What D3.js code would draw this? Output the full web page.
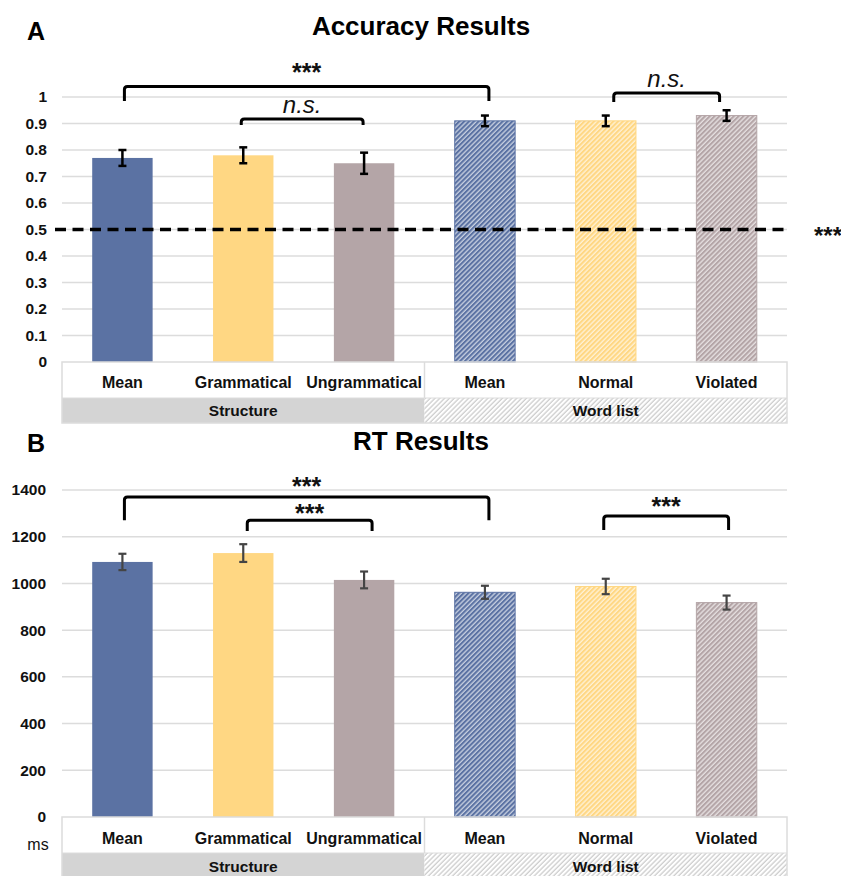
<!DOCTYPE html>
<html>
<head>
<meta charset="utf-8">
<script src="https://cdn.jsdelivr.net/npm/d3@7"></script>
<style>
  html, body { margin: 0; padding: 0; background: #fff; }
  svg { display: block; font-family: "Liberation Sans", Arial, Helvetica, sans-serif; }
</style>
</head>
<body>
<svg id="chart" width="841" height="876"></svg>
<script>
// ---------- DATA ----------
const categories = ["Mean", "Grammatical", "Ungrammatical", "Mean", "Normal", "Violated"];
const groupNames = ["Structure", "Word list"];
const groupOf = [0, 0, 0, 1, 1, 1];
const colorKeys = ["blue", "yellow", "mauve", "blue", "yellow", "mauve"];

const accValues = [0.77, 0.78, 0.75, 0.91, 0.91, 0.93];
const accErrors = [0.03, 0.03, 0.04, 0.02, 0.02, 0.02];
const accTicks = [0, 0.1, 0.2, 0.3, 0.4, 0.5, 0.6, 0.7, 0.8, 0.9, 1];
const accTickLabels = ["0", "0.1", "0.2", "0.3", "0.4", "0.5", "0.6", "0.7", "0.8", "0.9", "1"];
const accChance = 0.5;
const accChanceLabel = "***";
// brackets: from/to category index, top value, leg value, label value, label
const accBrackets = [
  { from: 0, to: 3, top: 1.04, leg: 0.985, labelAt: 1.062, label: "***" },
  { from: 1, to: 2, top: 0.917, leg: 0.894, labelAt: 0.94, label: "n.s." },
  { from: 4, to: 5, top: 1.015, leg: 0.981, labelAt: 1.038, label: "n.s." }
];

const rtValues = [1092, 1130, 1015, 962, 987, 918];
const rtErrors = [35, 38, 36, 28, 33, 30];
const rtTicks = [0, 200, 400, 600, 800, 1000, 1200, 1400];
const rtTickLabels = ["0", "200", "400", "600", "800", "1000", "1200", "1400"];
const rtBrackets = [
  { from: 0, to: 3, top: 1370, leg: 1271, labelAt: 1378, label: "***" },
  { from: 1, to: 2, top: 1271, leg: 1224, labelAt: 1263, label: "***" },
  { from: 4, to: 5, top: 1289, leg: 1229, labelAt: 1291, label: "***" }
];
const rtUnit = "ms";

// ---------- STYLE ----------
const colors = { blue: "#5b72a3", yellow: "#ffd783", mauve: "#b4a5a7" };
const gridColor = "#dcdcdc";
const svg = d3.select("#chart");
const plotLeft = 62, plotRight = 787;

const defs = svg.append("defs");
Object.entries(colors).forEach(([k, c]) => {
  const p = defs.append("pattern")
    .attr("id", "hatch-" + k)
    .attr("width", 3.4).attr("height", 3.4)
    .attr("patternUnits", "userSpaceOnUse")
    .attr("patternTransform", "rotate(45)");
  p.append("rect").attr("width", 3.4).attr("height", 3.4).attr("fill", c);
  p.append("line").attr("x1", 1).attr("y1", 0).attr("x2", 1).attr("y2", 3.4)
    .attr("stroke", "#fff").attr("stroke-width", 1.1).attr("stroke-opacity", 0.8);
});
{
  const p = defs.append("pattern")
    .attr("id", "hatch-group")
    .attr("width", 3.4).attr("height", 3.4)
    .attr("patternUnits", "userSpaceOnUse")
    .attr("patternTransform", "rotate(45)");
  p.append("rect").attr("width", 3.4).attr("height", 3.4).attr("fill", "#ffffff");
  p.append("line").attr("x1", 1).attr("y1", 0).attr("x2", 1).attr("y2", 3.4)
    .attr("stroke", "#c4c4c4").attr("stroke-width", 1.1);
}

const x = d3.scaleBand().domain(d3.range(categories.length)).range([plotLeft, plotRight]).paddingInner(0.5).paddingOuter(0.25);

function panel(cfg) {
  const g = svg.append("g");
  const y = d3.scaleLinear().domain(cfg.domain).range([cfg.y0, cfg.y1]);

  // title
  g.append("text").attr("x", 421).attr("y", cfg.titleY).attr("text-anchor", "middle")
    .attr("font-size", 26).attr("font-weight", "bold").attr("fill", "#000").text(cfg.title);
  g.append("text").attr("x", 27).attr("y", cfg.letterY)
    .attr("font-size", 25).attr("font-weight", "bold").attr("fill", "#000").text(cfg.letter);

  // gridlines
  g.append("g").selectAll("line").data(cfg.ticks.filter(t => t > 0)).join("line")
    .attr("x1", plotLeft).attr("x2", plotRight)
    .attr("y1", d => y(d)).attr("y2", d => y(d))
    .attr("stroke", gridColor).attr("stroke-width", 1.5);

  // y axis labels via d3 axis
  const axis = d3.axisLeft(y).tickValues(cfg.ticks).tickFormat((d, i) => cfg.tickLabels[i]).tickSize(0).tickPadding(0);
  const ag = g.append("g").attr("transform", `translate(${cfg.labelRight},0)`).call(axis);
  ag.select(".domain").remove();
  ag.selectAll("text").attr("font-size", 15.5).attr("font-weight", "bold").attr("fill", "#111")
    .attr("font-family", "'Liberation Sans', Arial, sans-serif");

  // bars
  g.append("g").selectAll("rect").data(cfg.values).join("rect")
    .attr("x", (d, i) => x(i)).attr("width", x.bandwidth())
    .attr("y", d => y(d)).attr("height", d => y(0) - y(d))
    .attr("fill", (d, i) => groupOf[i] === 0 ? colors[colorKeys[i]] : `url(#hatch-${colorKeys[i]})`)
    .attr("stroke", (d, i) => groupOf[i] === 0 ? "none" : colors[colorKeys[i]])
    .attr("stroke-width", 1);

  // error bars
  const eg = g.append("g").attr("stroke", cfg.errColor).attr("stroke-width", cfg.errWidth).attr("fill", "none");
  cfg.values.forEach((v, i) => {
    const cx = x(i) + x.bandwidth() / 2;
    const e = cfg.errors[i];
    eg.append("line").attr("x1", cx).attr("x2", cx).attr("y1", y(v + e)).attr("y2", y(v - e));
    eg.append("line").attr("x1", cx - 4).attr("x2", cx + 4).attr("y1", y(v + e)).attr("y2", y(v + e));
    eg.append("line").attr("x1", cx - 4).attr("x2", cx + 4).attr("y1", y(v - e)).attr("y2", y(v - e));
  });

  // chance line
  if (cfg.chance !== undefined) {
    g.append("line").attr("x1", 55).attr("x2", 788)
      .attr("y1", y(cfg.chance)).attr("y2", y(cfg.chance))
      .attr("stroke", "#000").attr("stroke-width", 3.5).attr("stroke-dasharray", "11,6.5");
    g.append("text").attr("x", 814).attr("y", y(cfg.chance) + 14)
      .attr("font-size", 24).attr("font-weight", "bold").attr("fill", "#111").text(cfg.chanceLabel);
  }

  // brackets
  cfg.brackets.forEach((b, k) => {
    const inset = cfg.insets[k];
    const xa = x(b.from) + x.bandwidth() / 2 + inset[0];
    const xb = x(b.to) + x.bandwidth() / 2 + inset[1];
    const yt = y(b.top), yl = y(b.leg);
    const r = 3;
    g.append("path")
      .attr("d", `M${xa},${yl} L${xa},${yt + r} Q${xa},${yt} ${xa + r},${yt} L${xb - r},${yt} Q${xb},${yt} ${xb},${yt + r} L${xb},${yl}`)
      .attr("fill", "none").attr("stroke", "#000").attr("stroke-width", 3);
    const isNS = b.label === "n.s.";
    g.append("text").attr("x", (xa + xb) / 2).attr("y", y(b.labelAt)).attr("text-anchor", "middle")
      .attr("font-size", isNS ? 24 : 25)
      .attr("font-style", isNS ? "italic" : "normal")
      .attr("font-weight", isNS ? "normal" : "bold")
      .attr("fill", "#111").text(b.label);
  });

  // category table
  const r1 = cfg.y0, r2 = cfg.y0 + cfg.row1H, r3 = r2 + cfg.row2H;
  const tg = g.append("g");
  groupNames.forEach((gn, gi) => {
    const idx = d3.range(categories.length).filter(i => groupOf[i] === gi);
    const step = x.step();
    const gx0 = gi === 0 ? plotLeft : x(idx[0]) - step * x.paddingInner() / 2;
    const gx1 = gi === groupNames.length - 1 ? plotRight : x(idx[idx.length - 1]) + x.bandwidth() + step * x.paddingInner() / 2;
    tg.append("rect").attr("x", gx0).attr("y", r2).attr("width", gx1 - gx0).attr("height", r3 - r2)
      .attr("fill", gi === 0 ? "#d4d4d4" : "url(#hatch-group)");
    tg.append("text").attr("x", (gx0 + gx1) / 2).attr("y", r2 + cfg.groupBaseline).attr("text-anchor", "middle")
      .attr("font-size", 15.5).attr("font-weight", "bold").attr("fill", "#111").text(gn);
    if (gi > 0) {
      tg.append("line").attr("x1", gx0).attr("x2", gx0).attr("y1", r1).attr("y2", r2)
        .attr("stroke", gridColor).attr("stroke-width", 1.5);
    }
  });
  tg.append("rect").attr("x", plotLeft).attr("y", r1).attr("width", plotRight - plotLeft).attr("height", r3 - r1)
    .attr("fill", "none").attr("stroke", gridColor).attr("stroke-width", 1.5);
  tg.append("line").attr("x1", plotLeft).attr("x2", plotRight).attr("y1", r2).attr("y2", r2)
    .attr("stroke", gridColor).attr("stroke-width", 1);
  tg.selectAll("text.cat").data(categories).join("text").attr("class", "cat")
    .attr("x", (d, i) => x(i) + x.bandwidth() / 2).attr("y", r1 + cfg.catBaseline)
    .attr("text-anchor", "middle").attr("font-size", 16).attr("font-weight", "bold").attr("fill", "#111")
    .text(d => d);
  if (cfg.unit) {
    tg.append("text").attr("x", 38).attr("y", r1 + 33).attr("text-anchor", "middle")
      .attr("font-size", 16).attr("fill", "#111").text(cfg.unit);
  }
}

panel({
  title: "Accuracy Results", letter: "A", titleY: 35, letterY: 40,
  domain: [0, 1], y0: 362, y1: 97, ticks: accTicks, tickLabels: accTickLabels, labelRight: 47,
  values: accValues, errors: accErrors, errColor: "#000", errWidth: 2.5,
  chance: accChance, chanceLabel: accChanceLabel,
  brackets: accBrackets, insets: [[2, 4], [-2, -1], [8, -7]],
  row1H: 36, row2H: 25, catBaseline: 26, groupBaseline: 18
});

panel({
  title: "RT Results", letter: "B", titleY: 450, letterY: 452,
  domain: [0, 1400], y0: 817, y1: 490, ticks: rtTicks, tickLabels: rtTickLabels, labelRight: 46,
  values: rtValues, errors: rtErrors, errColor: "#444", errWidth: 2.2,
  brackets: rtBrackets, insets: [[2, 4], [4, 8], [-2, 2]],
  row1H: 36, row2H: 25, catBaseline: 27, groupBaseline: 19, unit: rtUnit
});
</script>
</body>
</html>
